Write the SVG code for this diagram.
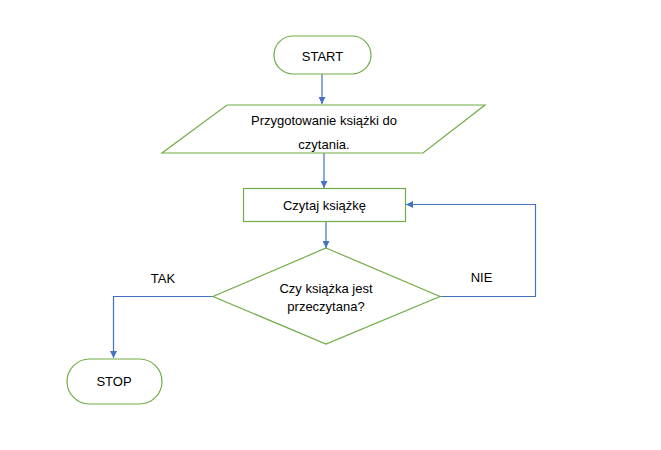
<svg xmlns="http://www.w3.org/2000/svg" width="661" height="450" viewBox="0 0 661 450">
<style>
.n{fill:#ffffff;stroke:#70AD47;stroke-width:1.2}
.c{fill:none;stroke:#4472C4;stroke-width:1.2}
.t{font-family:"Liberation Sans",Arial,sans-serif;font-size:13px;fill:#000;text-anchor:middle}
</style>
<defs>
<marker id="ah" viewBox="0 0 10 10" refX="10" refY="5" markerWidth="7" markerHeight="7" markerUnits="userSpaceOnUse" orient="auto">
<path d="M0,0 L10,5 L0,10 Z" fill="#4472C4"/>
</marker>
</defs>
<rect width="661" height="450" fill="#ffffff"/>
<g id="connectors">
<line class="c" x1="322" y1="74" x2="322" y2="104" marker-end="url(#ah)"/>
<line class="c" x1="324" y1="153" x2="324" y2="188" marker-end="url(#ah)"/>
<line class="c" x1="326" y1="222" x2="326" y2="248" marker-end="url(#ah)"/>
<polyline class="c" points="440,296.5 535.5,296.5 535.5,204.5 406,204.5" marker-end="url(#ah)"/>
<polyline class="c" points="213,296.5 113.5,296.5 113.5,358" marker-end="url(#ah)"/>
</g>
<g id="start">
<rect class="n" x="274" y="36" width="97" height="38" rx="19"/>
<text class="t" x="322.5" y="60.5">START</text>
</g>
<g id="prepare">
<polygon class="n" points="227,105 485,105 423,153 162,153"/>
<text class="t" x="324" y="124.5">Przygotowanie książki do</text>
<text class="t" x="324" y="149">czytania.</text>
</g>
<g id="read">
<rect class="n" x="243.5" y="188.5" width="162" height="33"/>
<text class="t" x="324.5" y="209.5">Czytaj książkę</text>
</g>
<g id="decision">
<polygon class="n" points="326,248 440,296.5 326,344 213,296.5"/>
<text class="t" x="326" y="292.5">Czy książka jest</text>
<text class="t" x="326" y="311">przeczytana?</text>
</g>
<g id="stop">
<rect class="n" x="67" y="359" width="95" height="45" rx="22.5"/>
<text class="t" x="114" y="386">STOP</text>
</g>
<g id="labels">
<text class="t" x="163" y="282.5">TAK</text>
<text class="t" x="481.5" y="282">NIE</text>
</g>
</svg>
